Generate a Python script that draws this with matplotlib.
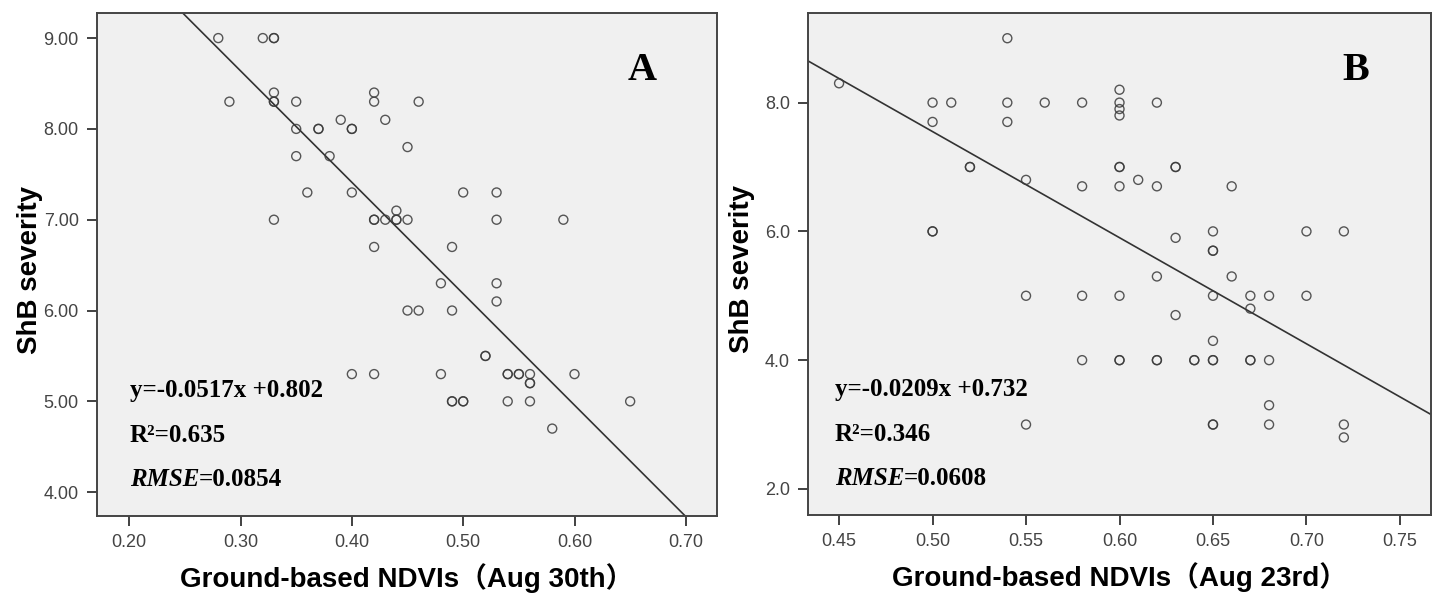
from matplotlib import pyplot as plt
import numpy as np

# Panel A: Aug 30th (repeated pairs are overlapping points drawn darker)
ndvi_a = [0.28, 0.32, 0.33, 0.33,
          0.29, 0.33, 0.33, 0.33, 0.35, 0.42, 0.42, 0.46,
          0.39, 0.43,
          0.35, 0.37, 0.37, 0.40, 0.40,
          0.45, 0.35, 0.38,
          0.36, 0.40, 0.50, 0.53,
          0.44,
          0.33, 0.42, 0.42, 0.43, 0.44, 0.44, 0.45, 0.53, 0.59,
          0.42, 0.49,
          0.48, 0.53, 0.53,
          0.45, 0.46, 0.49,
          0.52, 0.52,
          0.40, 0.42, 0.48, 0.54, 0.54, 0.55, 0.55, 0.56, 0.60,
          0.56, 0.56,
          0.49, 0.49, 0.50, 0.50, 0.54, 0.56, 0.65,
          0.58]
severity_a = [9.0, 9.0, 9.0, 9.0,
              8.3, 8.4, 8.3, 8.3, 8.3, 8.4, 8.3, 8.3,
              8.1, 8.1,
              8.0, 8.0, 8.0, 8.0, 8.0,
              7.8, 7.7, 7.7,
              7.3, 7.3, 7.3, 7.3,
              7.1,
              7.0, 7.0, 7.0, 7.0, 7.0, 7.0, 7.0, 7.0, 7.0,
              6.7, 6.7,
              6.3, 6.3, 6.1,
              6.0, 6.0, 6.0,
              5.5, 5.5,
              5.3, 5.3, 5.3, 5.3, 5.3, 5.3, 5.3, 5.3, 5.3,
              5.2, 5.2,
              5.0, 5.0, 5.0, 5.0, 5.0, 5.0, 5.0,
              4.7]

# Panel B: Aug 23rd
ndvi_b = [0.45,
          0.54,
          0.50, 0.51, 0.54, 0.56, 0.58, 0.60, 0.62,
          0.60, 0.60, 0.60,
          0.50, 0.54,
          0.52, 0.52, 0.60, 0.60, 0.63, 0.63,
          0.55, 0.61,
          0.58, 0.60, 0.62, 0.66,
          0.50, 0.50, 0.65, 0.70, 0.72,
          0.63,
          0.65, 0.65,
          0.62, 0.66,
          0.55, 0.58, 0.60, 0.65, 0.67, 0.68, 0.70,
          0.67, 0.63, 0.65,
          0.58, 0.60, 0.60, 0.62, 0.62, 0.64, 0.64, 0.65, 0.65, 0.67, 0.67, 0.68,
          0.68,
          0.55, 0.65, 0.65, 0.68, 0.72,
          0.72]
severity_b = [8.3,
              9.0,
              8.0, 8.0, 8.0, 8.0, 8.0, 8.0, 8.0,
              8.2, 7.9, 7.8,
              7.7, 7.7,
              7.0, 7.0, 7.0, 7.0, 7.0, 7.0,
              6.8, 6.8,
              6.7, 6.7, 6.7, 6.7,
              6.0, 6.0, 6.0, 6.0, 6.0,
              5.9,
              5.7, 5.7,
              5.3, 5.3,
              5.0, 5.0, 5.0, 5.0, 5.0, 5.0, 5.0,
              4.8, 4.7, 4.3,
              4.0, 4.0, 4.0, 4.0, 4.0, 4.0, 4.0, 4.0, 4.0, 4.0, 4.0, 4.0,
              3.3,
              3.0, 3.0, 3.0, 3.0, 3.0,
              2.8]

# fitted lines as drawn in the picture (intercept, slope)
fit_a = (12.32, -12.27)
fit_b = (15.79, -16.48)

xticks_a = [0.20, 0.30, 0.40, 0.50, 0.60, 0.70]
yticks_a = [4, 5, 6, 7, 8, 9]
xticks_b = [0.45, 0.50, 0.55, 0.60, 0.65, 0.70, 0.75]
yticks_b = [2, 4, 6, 8]

eq_a = ['y=-0.0517x +0.802', 'R²=0.635', '=0.0854']
eq_b = ['y=-0.0209x +0.732', 'R²=0.346', '=0.0608']

xlabel_a = 'Ground-based NDVIs（Aug 30th）'
xlabel_b = 'Ground-based NDVIs（Aug 23rd）'
ylabel = 'ShB severity'

SERIF = 'Liberation Serif'
LABEL_FONT = ['Liberation Sans', 'Noto Sans CJK SC']
EDGE = '#3a3a3a'


# Function to draw one scatter panel
def draw_panel(ax, x, y, fit, xticks, yticks, xfmt, yfmt, xlim, ylim,
               lines, letter, xlabel, text_x, ylab_x):
    ax.set_facecolor('#f0f0f0')
    ax.scatter(x, y, s=42, facecolors='none', edgecolors=EDGE,
               linewidths=1.0, alpha=0.85, zorder=3)

    xs = np.array(xlim)
    ax.plot(xs, fit[0] + fit[1] * xs, color='#333333', lw=1.2, zorder=2)

    ax.set_xlim(xlim)
    ax.set_ylim(ylim)
    ax.set_xticks(xticks)
    ax.set_xticklabels([xfmt % v for v in xticks])
    ax.set_yticks(yticks)
    ax.set_yticklabels([yfmt % v for v in yticks])
    ax.tick_params(direction='out', length=7, width=1.3, color='#333333',
                   labelsize=13, labelcolor='#444444', pad=6)
    for lab in ax.get_xticklabels() + ax.get_yticklabels():
        lab.set_family('Liberation Sans')
    for sp in ax.spines.values():
        sp.set_color('#444444')
        sp.set_linewidth(1.4)

    ax.set_xlabel(xlabel, family=LABEL_FONT, fontweight='bold', fontsize=20)
    ax.xaxis.set_label_coords(0.5, -0.123)
    ax.xaxis.label.set_va('center')
    ax.set_ylabel(ylabel, family=LABEL_FONT, fontweight='bold', fontsize=20)
    ax.yaxis.set_label_coords(ylab_x, 0.49)
    ax.yaxis.label.set_va('center')

    # equation, R² and RMSE
    ax.text(text_x, 0.25, lines[0], transform=ax.transAxes, family=SERIF,
            fontweight='bold', fontsize=18, va='center')
    ax.text(text_x, 0.161, lines[1], transform=ax.transAxes, family=SERIF,
            fontweight='bold', fontsize=18, va='center')
    t = ax.text(text_x, 0.072, 'RMSE', transform=ax.transAxes, family=SERIF,
                fontweight='bold', fontstyle='italic', fontsize=18, va='center')
    ax.annotate(lines[2], xy=(1, 0.5), xycoords=t, family=SERIF,
                fontweight='bold', fontsize=18, va='center', ha='left')

    ax.text(0.88, 0.885, letter, transform=ax.transAxes, family=SERIF,
            fontweight='bold', fontsize=29, ha='center', va='center')


fig = plt.figure(figsize=(14.36, 5.96), dpi=100)
ax_a = fig.add_axes([0.0675, 0.134, 0.4318, 0.844])
ax_b = fig.add_axes([0.5627, 0.136, 0.4338, 0.842])

draw_panel(ax_a, ndvi_a, severity_a, fit_a, xticks_a, yticks_a, '%.2f', '%.2f',
           (0.171, 0.728), (3.736, 9.275), eq_a, 'A', xlabel_a, 0.053, -0.108)
draw_panel(ax_b, ndvi_b, severity_b, fit_b, xticks_b, yticks_b, '%.2f', '%.1f',
           (0.4334, 0.7666), (1.596, 9.39), eq_b, 'B', xlabel_b, 0.043, -0.106)

fig.savefig('out.png', dpi=100)
